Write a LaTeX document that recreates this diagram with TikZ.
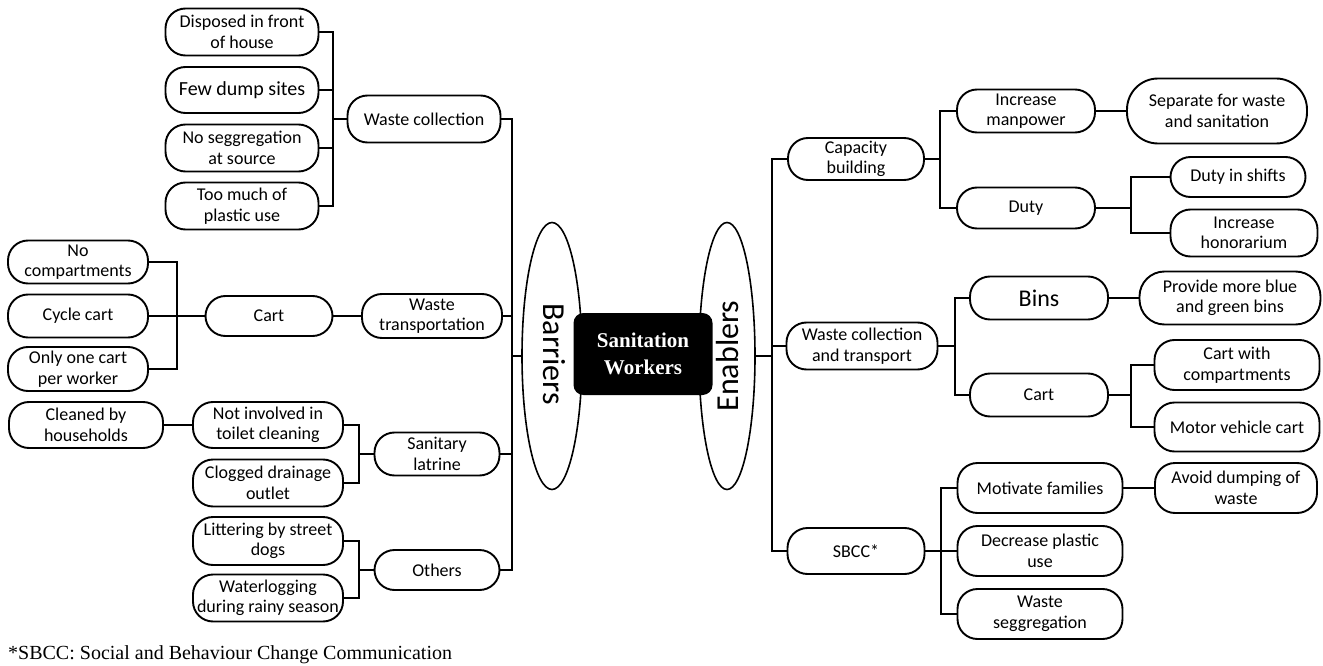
\documentclass[tikz,border=0pt]{standalone}
\usepackage{fontspec}
\setmainfont{Carlito}
\newfontfamily\tnr{Liberation Serif}
\usetikzlibrary{shapes.geometric}
\newcommand\fsn{\fontsize{18}{20.5}\selectfont}
\begin{document}
\begin{tikzpicture}[x=1pt,y=-1pt,
  box/.style={draw, line width=1.9pt, rounded corners=20pt, align=center, inner sep=0pt, font=\fsn},
  wh/.style 2 args={minimum width=#1pt, minimum height=#2pt},
  link/.style={line width=1.9pt},
  oval/.style={draw, ellipse, line width=1.6pt, inner sep=0pt, fill=white},
  sidetext/.style={font=\fontsize{32}{36}\selectfont, inner sep=0pt}]
\useasboundingbox (0,0) rectangle (1323,666);

% ---------- left side ----------
\node[box, wh={153}{47}] (disp) at (242,32) {Disposed in front\\of house};
\node[box, wh={153}{46}, font=\fontsize{20}{22}\selectfont] (few) at (242,90) {Few dump sites};
\node[box, wh={153}{47}] (noseg) at (242,148) {No seggregation\\at source};
\node[box, wh={153}{47}] (plastic) at (242,206) {Too much of\\plastic use};
\node[box, wh={153}{47}] (wc) at (424,119) {Waste collection};

\node[box, wh={140}{43}] (nocomp) at (78,262) {No\\compartments};
\node[box, wh={140}{43}] (cycle) at (78,316) {Cycle cart};
\node[box, wh={140}{44}] (onlyone) at (78,369) {Only one cart\\per worker};
\node[box, wh={127}{40}] (cartL) at (269,316) {Cart};
\node[box, wh={140}{44}] (wt) at (432,316) {Waste\\transportation};

\node[box, wh={154}{46}] (cleaned) at (86,425) {Cleaned by\\households};
\node[box, wh={150}{46}] (notinv) at (268,425) {Not involved in\\toilet cleaning};
\node[box, wh={150}{47}] (clogged) at (268,483) {Clogged drainage\\outlet};
\node[box, wh={125}{43}] (sl) at (437,454) {Sanitary\\latrine};

\node[box, wh={150}{48}] (litter) at (268,541) {Littering by street\\dogs};
\node[box, wh={150}{47}] (waterlog) at (268,598) {Waterlogging\\during rainy season};
\node[box, wh={125}{40}] (others) at (437,570) {Others};

% ---------- centre ----------
\node[oval, minimum width=60pt, minimum height=267pt] (barr) at (552,356) {};
\node[sidetext, rotate=-90] (barrtext) at (554,354) {Barriers};
\node[oval, minimum width=56pt, minimum height=267pt] (enab) at (727,356) {};
\node[sidetext, rotate=90] (enabtext) at (727,356) {Enablers};
\node[fill=black, rounded corners=10pt, minimum width=139pt, minimum height=82pt,
      text=white, align=center, inner sep=0pt,
      font=\tnr\bfseries\fontsize{21}{27}\selectfont] (sw) at (643,354) {Sanitation\\Workers};

% ---------- right side ----------
\node[box, wh={136}{42}] (cap) at (856,159) {Capacity\\building};
\node[box, wh={151}{47}] (wct) at (862,346) {Waste collection\\and transport};
\node[box, wh={137}{46}] (sbcc) at (856,551) {SBCC*};

\node[box, wh={138}{43}] (incm) at (1026,111) {Increase\\manpower};
\node[box, wh={180}{65}, rounded corners=31pt] (sep) at (1217,111) {Separate for waste\\and sanitation};
\node[box, wh={138}{41}] (duty) at (1026,208) {Duty};
\node[box, wh={135}{40}] (shifts) at (1238,177) {Duty in shifts};
\node[box, wh={147}{47}] (honor) at (1244,233) {Increase\\honorarium};

\node[box, wh={138}{43}, font=\fontsize{24}{26}\selectfont] (bins) at (1039,298) {Bins};
\node[box, wh={181}{53}, rounded corners=25pt] (provide) at (1230,298) {Provide more blue\\and green bins};
\node[box, wh={138}{43}] (cartR) at (1039,395) {Cart};
\node[box, wh={165}{50}] (cwc) at (1237,365) {Cart with\\compartments};
\node[box, wh={165}{49}] (motor) at (1237,427) {Motor vehicle cart};

\node[box, wh={165}{50}] (motiv) at (1040,488) {Motivate families};
\node[box, wh={162}{50}] (avoid) at (1236,488) {Avoid dumping of\\waste};
\node[box, wh={165}{50}] (decr) at (1040,551) {Decrease plastic\\use};
\node[box, wh={165}{50}] (wseg) at (1040,614) {Waste\\seggregation};

\node[anchor=west, inner sep=0pt, font=\tnr\fontsize{20}{22}\selectfont] (note) at (8,655)
  {*SBCC: Social and Behaviour Change Communication};

% ---------- connectors left ----------
\coordinate (wcj) at (333,119);
\draw[link] (disp.east) -| (wcj) |- (plastic.east);
\draw[link] (few.east) -- (few.east -| wcj);
\draw[link] (noseg.east) -- (noseg.east -| wcj);
\draw[link] (wcj) -- (wc.west);

\coordinate (cj) at (177,316);
\draw[link] (nocomp.east) -| (cj) |- (onlyone.east);
\draw[link] (cycle.east) -- (cartL.west);
\draw[link] (cartL.east) -- (wt.west);

\coordinate (sj) at (359,454);
\draw[link] (cleaned.east) -- (notinv.west);
\draw[link] (notinv.east) -| (sj) |- (clogged.east);
\draw[link] (sj) -- (sl.west);

\coordinate (oj) at (359,570);
\draw[link] (litter.east) -| (oj) |- (waterlog.east);
\draw[link] (oj) -- (others.west);

\coordinate (bj) at (512,356);
\draw[link] (wc.east) -| (bj) |- (others.east);
\draw[link] (wt.east) -- (wt.east -| bj);
\draw[link] (sl.east) -- (sl.east -| bj);
\draw[link] (bj) -- (barr.west);

% ---------- connectors right ----------
\coordinate (ej) at (772,356);
\draw[link] (enab.east) -- (ej);
\draw[link] (cap.west) -| (ej) |- (sbcc.west);
\draw[link] (wct.west) -- (wct.west -| ej);

\coordinate (capj) at (940,159);
\draw[link] (cap.east) -- (capj);
\draw[link] (incm.west) -| (capj) |- (duty.west);
\draw[link] (incm.east) -- (sep.west);
\coordinate (dj) at (1131,208);
\draw[link] (duty.east) -- (dj);
\draw[link] (shifts.west) -| (dj) |- (honor.west);

\coordinate (wj) at (955,346);
\draw[link] (wct.east) -- (wj);
\draw[link] (bins.west) -| (wj) |- (cartR.west);
\draw[link] (bins.east) -- (provide.west);
\coordinate (crj) at (1131,395);
\draw[link] (cartR.east) -- (crj);
\draw[link] (cwc.west) -| (crj) |- (motor.west);

\coordinate (sbj) at (941,551);
\draw[link] (sbcc.east) -- (decr.west);
\draw[link] (motiv.west) -| (sbj) |- (wseg.west);
\draw[link] (motiv.east) -- (avoid.west);
\end{tikzpicture}
\end{document}
